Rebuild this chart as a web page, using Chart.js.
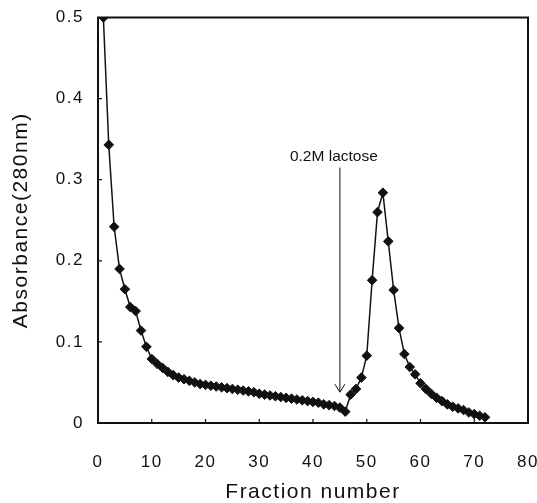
<!DOCTYPE html>
<html>
<head>
<meta charset="utf-8">
<script src="https://cdn.jsdelivr.net/npm/chart.js@4.4.1/dist/chart.umd.min.js"></script>
<style>
  html, body { margin: 0; padding: 0; background: #fff; }
</style>
</head>
<body>
<canvas id="myChart" width="537" height="503"></canvas>
<script>
// fraction number / absorbance at 280 nm
const fractions = [
   1,  2,  3,  4,  5,  6,  7,  8,  9, 10, 11, 12,
  13, 14, 15, 16, 17, 18, 19, 20, 21, 22, 23, 24,
  25, 26, 27, 28, 29, 30, 31, 32, 33, 34, 35, 36,
  37, 38, 39, 40, 41, 42, 43, 44, 45, 46, 47, 48,
  49, 50, 51, 52, 53, 54, 55, 56, 57, 58, 59, 60,
  61, 62, 63, 64, 65, 66, 67, 68, 69, 70, 71, 72
];
const absorbance = [
  0.500, 0.343, 0.242, 0.190, 0.165, 0.143, 0.138, 0.114, 0.094, 0.079, 0.073, 0.068,
  0.063, 0.059, 0.056, 0.054, 0.052, 0.050, 0.048, 0.047, 0.046, 0.045, 0.044, 0.043,
  0.042, 0.041, 0.040, 0.039, 0.038, 0.036, 0.035, 0.034, 0.033, 0.032, 0.031, 0.030,
  0.029, 0.028, 0.027, 0.026, 0.025, 0.023, 0.022, 0.021, 0.019, 0.014, 0.035, 0.042,
  0.056, 0.083, 0.176, 0.260, 0.284, 0.224, 0.164, 0.117, 0.085, 0.069, 0.060, 0.049,
  0.042, 0.036, 0.031, 0.027, 0.023, 0.020, 0.018, 0.016, 0.013, 0.011, 0.009, 0.007
];

const xTicks = [0, 10, 20, 30, 40, 50, 60, 70, 80];
const yTicks = [0, 0.1, 0.2, 0.3, 0.4, 0.5];

// lactose elution marker
const arrowLabel = '0.2M lactose';
const arrowFraction = 45;
const arrowLabelY = 0.328;
const arrowTop = 0.315;
const arrowTip = 0.038;

const ink = '#111';
const font = '"Liberation Sans", Arial, sans-serif';

const frame = {
  id: 'frame',
  beforeDraw(chart) {
    chart.ctx.letterSpacing = '1.5px';
  },
  beforeDatasetsDraw(chart) {
    const {ctx, chartArea: a, scales: {x, y}} = chart;
    ctx.save();
    ctx.strokeStyle = ink;
    ctx.lineWidth = 2;
    ctx.strokeRect(a.left, a.top, a.right - a.left, a.bottom - a.top);
    ctx.lineWidth = 1.2;
    ctx.beginPath();
    xTicks.forEach(v => {
      const px = x.getPixelForValue(v);
      ctx.moveTo(px, a.bottom);
      ctx.lineTo(px, a.bottom - 4);
    });
    yTicks.forEach(v => {
      const py = y.getPixelForValue(v);
      ctx.moveTo(a.left, py);
      ctx.lineTo(a.left + 4, py);
    });
    ctx.stroke();
    ctx.restore();
  },
  afterDraw(chart) {
    const {ctx, scales: {x, y}} = chart;
    const ax = x.getPixelForValue(arrowFraction);
    const top = y.getPixelForValue(arrowTop);
    const tip = y.getPixelForValue(arrowTip);
    ctx.save();
    ctx.letterSpacing = '0px';
    ctx.strokeStyle = ink;
    ctx.lineWidth = 1;
    ctx.beginPath();
    ctx.moveTo(ax, top);
    ctx.lineTo(ax, tip);
    ctx.moveTo(ax - 5, tip - 8);
    ctx.lineTo(ax, tip);
    ctx.lineTo(ax + 5, tip - 8);
    ctx.stroke();
    ctx.fillStyle = ink;
    ctx.font = '15.5px ' + font;
    ctx.textAlign = 'center';
    ctx.textBaseline = 'middle';
    ctx.fillText(arrowLabel, ax - 6, y.getPixelForValue(arrowLabelY));
    ctx.restore();
  }
};

function noPad(s) {
  s.paddingLeft = 0;
  s.paddingRight = 0;
  s.paddingTop = 0;
  s.paddingBottom = 0;
}

const ctx = document.getElementById('myChart').getContext('2d');
const myChart = new Chart(ctx, {
  type: 'scatter',
  data: {
    datasets: [{
      data: fractions.map((f, i) => ({x: f, y: absorbance[i]})),
      showLine: true,
      borderColor: ink,
      borderWidth: 1.5,
      backgroundColor: ink,
      pointStyle: 'rectRot',
      pointRadius: 4.8,
      pointBorderWidth: 1,
      pointBorderColor: ink,
      pointBackgroundColor: ink
    }]
  },
  options: {
    responsive: false,
    animation: false,
    layout: { padding: { left: 11, right: 9, top: 17.5, bottom: 0 } },
    plugins: { legend: { display: false }, tooltip: { enabled: false } },
    scales: {
      x: {
        type: 'linear',
        min: 0,
        max: 80,
        afterBuildTicks: s => { s.ticks = xTicks.map(v => ({value: v})); },
        afterFit: s => { s.height = 80; noPad(s); },
        grid: { display: false, drawTicks: false },
        border: { display: false },
        ticks: {
          padding: 29,
          color: ink,
          font: { family: font, size: 17 },
          maxRotation: 0
        },
        title: {
          display: true,
          text: 'Fraction number',
          color: ink,
          font: { family: font, size: 21, lineHeight: 1 },
          padding: { top: 0, bottom: 0 }
        }
      },
      y: {
        min: 0,
        max: 0.5,
        afterBuildTicks: s => { s.ticks = yTicks.map(v => ({value: v})); },
        afterFit: s => { s.width = 87; noPad(s); },
        grid: { display: false, drawTicks: false },
        border: { display: false },
        ticks: {
          padding: 14,
          color: ink,
          font: { family: font, size: 17 },
          callback: v => String(v)
        },
        title: {
          display: true,
          text: 'Absorbance(280nm)',
          color: ink,
          font: { family: font, size: 21, lineHeight: 1 },
          padding: { top: 0, bottom: 0 }
        }
      }
    }
  },
  plugins: [frame]
});
</script>
</body>
</html>
